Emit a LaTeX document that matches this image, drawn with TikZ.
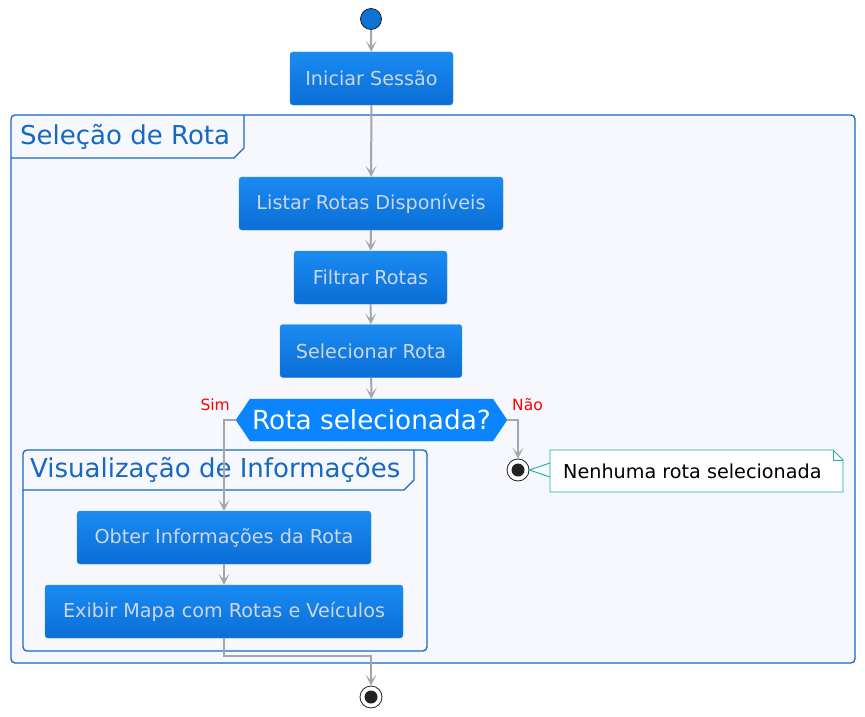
\documentclass[tikz,border=0pt]{standalone}
\usepackage{fontspec}
\setmainfont{DejaVu Sans}
\usepackage{xcolor}
\usetikzlibrary{positioning,arrows.meta,shapes.symbols,calc}

\definecolor{boxtop}{RGB}{26,139,242}
\definecolor{boxbot}{RGB}{10,110,214}
\definecolor{boxedge}{RGB}{52,140,222}
\definecolor{boxtext}{RGB}{204,214,230}
\definecolor{framefill}{RGB}{247,248,253}
\definecolor{frameedge}{RGB}{22,104,196}
\definecolor{decfill}{RGB}{10,132,255}
\definecolor{flowgray}{RGB}{163,166,170}
\definecolor{startblue}{RGB}{12,114,214}
\definecolor{noteedge}{RGB}{26,176,168}
\definecolor{stopdark}{RGB}{34,34,34}

\begin{document}
\begin{tikzpicture}[
    x=1pt, y=-1pt,
    action/.style={draw=boxedge, rounded corners=3pt, top color=boxtop, bottom color=boxbot, text=boxtext, minimum height=53pt, inner sep=0pt, font=\fontsize{19.2}{22}\selectfont},
    decision/.style={shape=signal, signal to=west and east, signal pointer angle=112, fill=decfill, draw=decfill, text=white, minimum width=271pt, minimum height=42pt, inner sep=0pt, font=\fontsize{26.3}{30}\selectfont},
    frame/.style={draw=frameedge, line width=1.3pt, fill=framefill, rounded corners=4pt},
    tab/.style={draw=frameedge, line width=1.3pt},
    title/.style={anchor=west, text=frameedge, inner sep=0pt, font=\fontsize{26}{30}\selectfont},
    flow/.style={draw=flowgray, line width=2pt, -{Stealth[length=11pt,width=11pt,inset=6pt]}},
    guard/.style={text=red, inner sep=0pt, font=\fontsize{15.5}{18}\selectfont},
    startdot/.style={circle, fill=startblue, draw=stopdark, line width=0.8pt, minimum size=21pt, inner sep=0pt},
    stopdot/.style={circle, fill=white, draw=stopdark, line width=0.8pt, minimum size=22pt, inner sep=0pt,
        path picture={\fill[stopdark] (path picture bounding box.center) circle (6.5pt);}},
    notetext/.style={inner sep=0pt, font=\fontsize{19.2}{22}\selectfont}
]
\useasboundingbox (0,0) rectangle (865,717);

% Frames
\draw[frame] (11,115) rectangle (855,663);
\draw[tab] (11,158) -- (234,158) -- (244,148) -- (244,115);
\node[title] (seltitle) at (20,137) {Seleção de Rota};

\draw[frame] (23,450) rectangle (427,651);
\draw[tab] (23,490) -- (404,490) -- (414,480) -- (414,450);
\node[title] (vistitle) at (30,470) {Visualização de Informações};

% Start
\node[startdot] (begin) at (371,19) {};
\node[action, minimum width=163pt] (iniciar) at (371.5,78.5) {Iniciar Sessão};

% Route selection
\node[action, minimum width=264pt] (listar) at (371,203.5) {Listar Rotas Disponíveis};
\node[action, minimum width=153pt] (filtrar) at (370.5,277.5) {Filtrar Rotas};
\node[action, minimum width=182pt] (selecionar) at (371,351) {Selecionar Rota};
\node[decision] (dec) at (371.5,420) {Rota selecionada?};
\node[guard, anchor=east] (sim) at (230,405) {Sim};
\node[guard, anchor=west] (nao) at (512,405) {Não};

% Branches
\node[stopdot] (stopno) at (518,470) {};
\node[action, minimum width=294pt] (obter) at (224,537.5) {Obter Informações da Rota};
\node[action, minimum width=358pt] (exibir) at (224,611.5) {Exibir Mapa com Rotas e Veículos};
\node[stopdot] (final) at (371,697) {};

% Note
\draw[noteedge, fill=white, line width=0.9pt] (550,450) -- (833,450) -- (843,460) -- (843,492) -- (550,492) -- cycle;
\draw[noteedge, line width=0.9pt] (833,450) -- (833,460) -- (843,460);
\node[notetext, anchor=west] (note) at (563,471) {Nenhuma rota selecionada};
\draw[noteedge, line width=0.9pt] (550,463) -- (stopno.east) -- (550,477);

% Connectors
\draw[flow] (begin) -- (iniciar);
\draw[flow] (iniciar) -- (listar);
\draw[flow] (listar) -- (filtrar);
\draw[flow] (filtrar) -- (selecionar);
\draw[flow] (selecionar) -- (dec);
\draw[flow] (dec.west) -| (obter.north);
\draw[flow] (dec.east) -| (stopno.north);
\draw[flow] (obter) -- (exibir);
\draw[flow] (exibir.south) -- ++(0,18) -| (final.north);

\end{tikzpicture}
\end{document}
